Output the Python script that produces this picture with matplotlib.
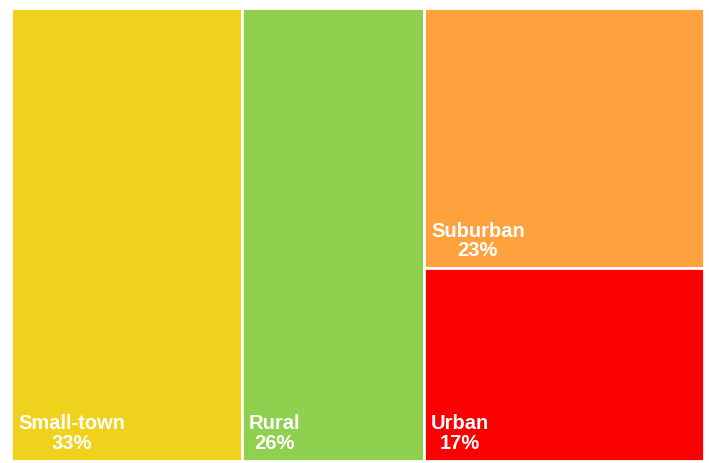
"""Treemap of community types."""

import matplotlib.pyplot as plt
from matplotlib.patches import Rectangle

# Data
labels = ["Small-town", "Rural", "Suburban", "Urban"]
shares = [33, 26, 23, 17]
colors = ["#EED21B", "#8FD14E", "#FFA23D", "#FA0000"]

W, H = 709, 463
fig = plt.figure(figsize=(W / 100, H / 100), dpi=100)
# treemap area in pixels: x 11..704, y 8..461
ax = fig.add_axes([11 / W, (H - 461) / H, 693 / W, 453 / H])
ax.set_xlim(0, 1)
ax.set_ylim(0, 1)
ax.axis("off")

total = sum(shares)
# first two are full-height columns, last two share the remaining column
rects = []
x = 0.0
for v in shares[:2]:
    w = v / total
    rects.append((x, 0.0, w, 1.0))
    x += w
rest = sum(shares[2:])
w = 1.0 - x
y = 1.0
for v in shares[2:]:
    h = v / rest
    y -= h
    rects.append((x, y, w, h))

px = 1 / 693
py = 1 / 453
for (rx, ry, rw, rh), lab, v, c in zip(rects, labels, shares, colors):
    ax.add_patch(Rectangle((rx, ry), rw, rh, facecolor=c,
                           edgecolor="white", linewidth=2))
    ax.text(rx + 7 * px, ry + 8 * py, f"{lab}\n{v}%", color="white",
            fontsize=14.5, fontweight="bold", family="Liberation Sans",
            ha="left", va="bottom", multialignment="center",
            linespacing=1.05)

fig.savefig("out.png", dpi=100)
